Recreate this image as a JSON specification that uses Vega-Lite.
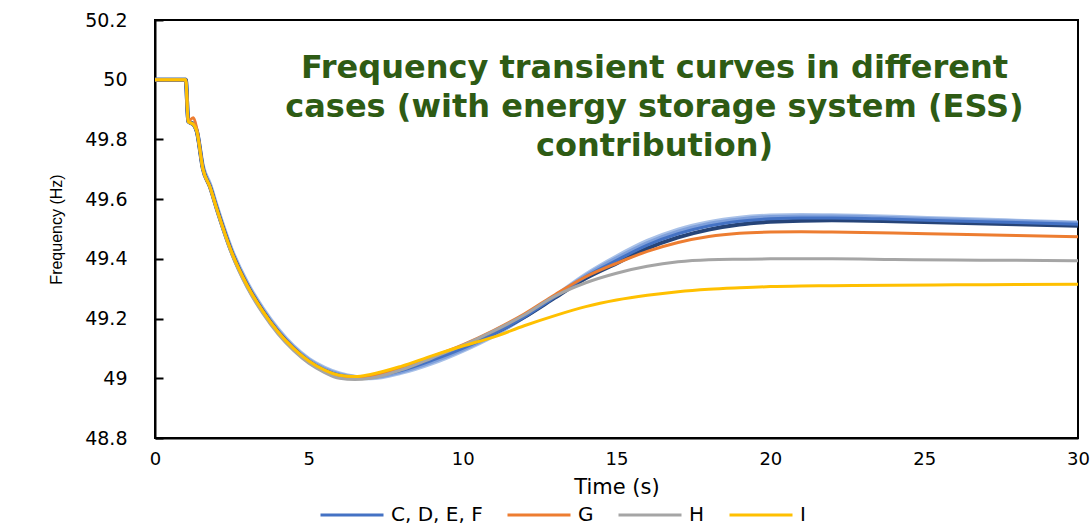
{
  "$schema": "https://vega.github.io/schema/vega-lite/v6.json",
  "width": 923,
  "height": 418,
  "autosize": {"type": "none"},
  "padding": {"left": 155, "top": 20, "right": 14, "bottom": 89},
  "background": "white",
  "view": {"stroke": "black", "strokeWidth": 2},
  "title": {
    "text": ["Frequency transient curves in different", "cases (with energy storage system (ESS)", "contribution)"],
    "font": "DejaVu Sans",
    "fontSize": 32,
    "fontWeight": "bold",
    "color": "#2E5B14",
    "lineHeight": 39,
    "anchor": "middle",
    "frame": "group",
    "baseline": "top",
    "dx": 38,
    "offset": -152
  },
  "data": {
    "values": [
      {"t":0,"c":"C","f":50},{"t":1,"c":"C","f":50},{"t":1.08,"c":"C","f":49.86},{"t":1.25,"c":"C","f":49.85},{"t":1.36,"c":"C","f":49.826},{"t":1.56,"c":"C","f":49.70},{"t":1.79,"c":"C","f":49.64},{"t":2,"c":"C","f":49.57},{"t":2.5,"c":"C","f":49.42},{"t":3,"c":"C","f":49.31},{"t":3.5,"c":"C","f":49.225},{"t":4,"c":"C","f":49.155},{"t":4.5,"c":"C","f":49.10},{"t":5,"c":"C","f":49.058},{"t":5.5,"c":"C","f":49.028},{"t":6,"c":"C","f":49.01},{"t":6.5,"c":"C","f":49.003},{"t":7,"c":"C","f":49.006},{"t":8,"c":"C","f":49.026},{"t":9,"c":"C","f":49.06},{"t":10,"c":"C","f":49.10},{"t":11,"c":"C","f":49.148},{"t":12,"c":"C","f":49.205},{"t":13,"c":"C","f":49.272},{"t":14,"c":"C","f":49.34},{"t":15,"c":"C","f":49.395},{"t":16,"c":"C","f":49.446},{"t":17,"c":"C","f":49.484},{"t":18,"c":"C","f":49.51},{"t":19,"c":"C","f":49.526},{"t":20,"c":"C","f":49.534},{"t":21,"c":"C","f":49.537},{"t":22,"c":"C","f":49.537},{"t":24,"c":"C","f":49.533},{"t":26,"c":"C","f":49.527},{"t":28,"c":"C","f":49.522},{"t":30,"c":"C","f":49.516},

      {"t":0,"c":"D","f":50},{"t":1,"c":"D","f":50},{"t":1.08,"c":"D","f":49.862},{"t":1.25,"c":"D","f":49.852},{"t":1.36,"c":"D","f":49.83},{"t":1.56,"c":"D","f":49.71},{"t":1.79,"c":"D","f":49.65},{"t":2,"c":"D","f":49.58},{"t":2.5,"c":"D","f":49.43},{"t":3,"c":"D","f":49.32},{"t":3.5,"c":"D","f":49.235},{"t":4,"c":"D","f":49.165},{"t":4.5,"c":"D","f":49.108},{"t":5,"c":"D","f":49.065},{"t":5.5,"c":"D","f":49.036},{"t":6,"c":"D","f":49.016},{"t":6.5,"c":"D","f":49.005},{"t":7,"c":"D","f":49.0},{"t":8,"c":"D","f":49.018},{"t":9,"c":"D","f":49.05},{"t":10,"c":"D","f":49.092},{"t":11,"c":"D","f":49.142},{"t":12,"c":"D","f":49.205},{"t":13,"c":"D","f":49.276},{"t":14,"c":"D","f":49.348},{"t":15,"c":"D","f":49.408},{"t":16,"c":"D","f":49.46},{"t":17,"c":"D","f":49.498},{"t":18,"c":"D","f":49.523},{"t":19,"c":"D","f":49.538},{"t":20,"c":"D","f":49.545},{"t":21,"c":"D","f":49.547},{"t":22,"c":"D","f":49.546},{"t":24,"c":"D","f":49.541},{"t":26,"c":"D","f":49.534},{"t":28,"c":"D","f":49.528},{"t":30,"c":"D","f":49.522},

      {"t":0,"c":"E","f":50},{"t":1,"c":"E","f":50},{"t":1.08,"c":"E","f":49.861},{"t":1.25,"c":"E","f":49.851},{"t":1.36,"c":"E","f":49.828},{"t":1.56,"c":"E","f":49.705},{"t":1.79,"c":"E","f":49.645},{"t":2,"c":"E","f":49.575},{"t":2.5,"c":"E","f":49.425},{"t":3,"c":"E","f":49.315},{"t":3.5,"c":"E","f":49.23},{"t":4,"c":"E","f":49.16},{"t":4.5,"c":"E","f":49.104},{"t":5,"c":"E","f":49.062},{"t":5.5,"c":"E","f":49.032},{"t":6,"c":"E","f":49.013},{"t":6.5,"c":"E","f":49.004},{"t":7,"c":"E","f":49.003},{"t":8,"c":"E","f":49.022},{"t":9,"c":"E","f":49.055},{"t":10,"c":"E","f":49.096},{"t":11,"c":"E","f":49.145},{"t":12,"c":"E","f":49.205},{"t":13,"c":"E","f":49.274},{"t":14,"c":"E","f":49.344},{"t":15,"c":"E","f":49.402},{"t":16,"c":"E","f":49.453},{"t":17,"c":"E","f":49.491},{"t":18,"c":"E","f":49.517},{"t":19,"c":"E","f":49.532},{"t":20,"c":"E","f":49.54},{"t":21,"c":"E","f":49.542},{"t":22,"c":"E","f":49.542},{"t":24,"c":"E","f":49.537},{"t":26,"c":"E","f":49.531},{"t":28,"c":"E","f":49.525},{"t":30,"c":"E","f":49.519},

      {"t":0,"c":"F","f":50},{"t":1,"c":"F","f":50},{"t":1.08,"c":"F","f":49.86},{"t":1.25,"c":"F","f":49.85},{"t":1.36,"c":"F","f":49.826},{"t":1.56,"c":"F","f":49.70},{"t":1.79,"c":"F","f":49.64},{"t":2,"c":"F","f":49.57},{"t":2.5,"c":"F","f":49.42},{"t":3,"c":"F","f":49.31},{"t":3.5,"c":"F","f":49.225},{"t":4,"c":"F","f":49.155},{"t":4.5,"c":"F","f":49.10},{"t":5,"c":"F","f":49.056},{"t":5.5,"c":"F","f":49.026},{"t":6,"c":"F","f":49.008},{"t":6.5,"c":"F","f":49.002},{"t":7,"c":"F","f":49.008},{"t":8,"c":"F","f":49.03},{"t":9,"c":"F","f":49.065},{"t":10,"c":"F","f":49.105},{"t":11,"c":"F","f":49.15},{"t":12,"c":"F","f":49.205},{"t":13,"c":"F","f":49.27},{"t":14,"c":"F","f":49.335},{"t":15,"c":"F","f":49.385},{"t":16,"c":"F","f":49.435},{"t":17,"c":"F","f":49.472},{"t":18,"c":"F","f":49.498},{"t":19,"c":"F","f":49.515},{"t":20,"c":"F","f":49.524},{"t":21,"c":"F","f":49.528},{"t":22,"c":"F","f":49.529},{"t":24,"c":"F","f":49.526},{"t":26,"c":"F","f":49.521},{"t":28,"c":"F","f":49.516},{"t":30,"c":"F","f":49.511},

      {"t":0,"c":"G","f":50},{"t":1,"c":"G","f":50},{"t":1.08,"c":"G","f":49.862},{"t":1.25,"c":"G","f":49.873},{"t":1.36,"c":"G","f":49.835},{"t":1.56,"c":"G","f":49.70},{"t":1.79,"c":"G","f":49.64},{"t":2,"c":"G","f":49.57},{"t":2.5,"c":"G","f":49.42},{"t":3,"c":"G","f":49.31},{"t":3.5,"c":"G","f":49.225},{"t":4,"c":"G","f":49.155},{"t":4.5,"c":"G","f":49.10},{"t":5,"c":"G","f":49.056},{"t":5.5,"c":"G","f":49.026},{"t":6,"c":"G","f":49.008},{"t":6.5,"c":"G","f":49.003},{"t":7,"c":"G","f":49.008},{"t":8,"c":"G","f":49.035},{"t":9,"c":"G","f":49.072},{"t":10,"c":"G","f":49.112},{"t":11,"c":"G","f":49.16},{"t":12,"c":"G","f":49.215},{"t":13,"c":"G","f":49.28},{"t":14,"c":"G","f":49.34},{"t":15,"c":"G","f":49.385},{"t":16,"c":"G","f":49.425},{"t":17,"c":"G","f":49.455},{"t":18,"c":"G","f":49.475},{"t":19,"c":"G","f":49.486},{"t":20,"c":"G","f":49.49},{"t":21,"c":"G","f":49.491},{"t":22,"c":"G","f":49.49},{"t":24,"c":"G","f":49.487},{"t":26,"c":"G","f":49.482},{"t":28,"c":"G","f":49.478},{"t":30,"c":"G","f":49.474},

      {"t":0,"c":"H","f":50},{"t":1,"c":"H","f":50},{"t":1.08,"c":"H","f":49.86},{"t":1.25,"c":"H","f":49.85},{"t":1.36,"c":"H","f":49.826},{"t":1.56,"c":"H","f":49.70},{"t":1.79,"c":"H","f":49.64},{"t":2,"c":"H","f":49.568},{"t":2.5,"c":"H","f":49.415},{"t":3,"c":"H","f":49.303},{"t":3.5,"c":"H","f":49.218},{"t":4,"c":"H","f":49.148},{"t":4.5,"c":"H","f":49.093},{"t":5,"c":"H","f":49.05},{"t":5.5,"c":"H","f":49.02},{"t":6,"c":"H","f":49.0},{"t":6.5,"c":"H","f":48.996},{"t":7,"c":"H","f":49.0},{"t":8,"c":"H","f":49.028},{"t":9,"c":"H","f":49.068},{"t":10,"c":"H","f":49.11},{"t":11,"c":"H","f":49.158},{"t":12,"c":"H","f":49.212},{"t":13,"c":"H","f":49.275},{"t":14,"c":"H","f":49.32},{"t":15,"c":"H","f":49.352},{"t":16,"c":"H","f":49.375},{"t":17,"c":"H","f":49.39},{"t":18,"c":"H","f":49.397},{"t":19,"c":"H","f":49.399},{"t":20,"c":"H","f":49.4},{"t":21,"c":"H","f":49.4},{"t":22,"c":"H","f":49.4},{"t":24,"c":"H","f":49.398},{"t":26,"c":"H","f":49.396},{"t":28,"c":"H","f":49.395},{"t":30,"c":"H","f":49.394},

      {"t":0,"c":"I","f":50},{"t":1,"c":"I","f":50},{"t":1.08,"c":"I","f":49.86},{"t":1.25,"c":"I","f":49.85},{"t":1.36,"c":"I","f":49.826},{"t":1.56,"c":"I","f":49.70},{"t":1.79,"c":"I","f":49.64},{"t":2,"c":"I","f":49.57},{"t":2.5,"c":"I","f":49.42},{"t":3,"c":"I","f":49.31},{"t":3.5,"c":"I","f":49.225},{"t":4,"c":"I","f":49.155},{"t":4.5,"c":"I","f":49.10},{"t":5,"c":"I","f":49.058},{"t":5.5,"c":"I","f":49.028},{"t":6,"c":"I","f":49.01},{"t":6.5,"c":"I","f":49.006},{"t":7,"c":"I","f":49.013},{"t":8,"c":"I","f":49.04},{"t":9,"c":"I","f":49.075},{"t":10,"c":"I","f":49.108},{"t":11,"c":"I","f":49.138},{"t":12,"c":"I","f":49.176},{"t":13,"c":"I","f":49.21},{"t":14,"c":"I","f":49.24},{"t":15,"c":"I","f":49.262},{"t":16,"c":"I","f":49.278},{"t":17,"c":"I","f":49.29},{"t":18,"c":"I","f":49.298},{"t":19,"c":"I","f":49.303},{"t":20,"c":"I","f":49.307},{"t":21,"c":"I","f":49.309},{"t":22,"c":"I","f":49.31},{"t":24,"c":"I","f":49.312},{"t":26,"c":"I","f":49.313},{"t":28,"c":"I","f":49.314},{"t":30,"c":"I","f":49.315}
    ]
  },
  "encoding": {
    "x": {
      "field": "t", "type": "quantitative",
      "scale": {"domain": [0, 30], "nice": false, "zero": false},
      "axis": {
        "title": "Time (s)",
        "values": [0, 5, 10, 15, 20, 25, 30],
        "grid": false, "ticks": false, "labelFlush": false,
        "labelFont": "DejaVu Sans", "labelFontSize": 18, "labelColor": "black", "labelPadding": 12,
        "domainColor": "black", "domainWidth": 2,
        "titleFont": "DejaVu Sans", "titleFontSize": 21, "titleFontWeight": "normal", "titleColor": "black", "titlePadding": 8
      }
    },
    "y": {
      "field": "f", "type": "quantitative",
      "scale": {"domain": [48.8, 50.2], "nice": false, "zero": false},
      "axis": {
        "title": "Frequency (Hz)",
        "values": [48.8, 49, 49.2, 49.4, 49.6, 49.8, 50, 50.2],
        "format": ".3~r",
        "grid": false, "ticks": true, "tickSize": -8, "tickColor": "black", "tickWidth": 2,
        "labelFont": "DejaVu Sans", "labelFontSize": 19, "labelColor": "black", "labelPadding": 36,
        "domainColor": "black", "domainWidth": 2,
        "titleFont": "Liberation Sans", "titleFontSize": 16, "titleFontWeight": "normal", "titleColor": "black", "titlePadding": 20
      }
    }
  },
  "layer": [
    {
      "transform": [{"filter": "datum.c == 'D' || datum.c == 'E' || datum.c == 'F'"}],
      "mark": {"type": "line", "interpolate": "monotone", "strokeWidth": 4},
      "encoding": {
        "color": {"field": "c", "type": "nominal", "legend": null,
          "scale": {"domain": ["D", "E", "F"], "range": ["#A9C1E8", "#7FA0DB", "#264478"]}}
      }
    },
    {
      "transform": [{"filter": "datum.c == 'C' || datum.c == 'G' || datum.c == 'H' || datum.c == 'I'"}],
      "mark": {"type": "line", "interpolate": "monotone", "strokeWidth": 3},
      "encoding": {
        "color": {"field": "c", "type": "nominal",
          "scale": {"domain": ["C", "G", "H", "I"], "range": ["#4472C4", "#ED7D31", "#A5A5A5", "#FFC000"]},
          "legend": {
            "title": null, "orient": "none", "direction": "horizontal",
            "legendX": 164, "legendY": 462,
            "symbolType": "stroke", "symbolSize": 3969, "symbolStrokeWidth": 3,
            "labelExpr": "datum.label == 'C' ? 'C, D, E, F' : datum.label",
            "labelFont": "DejaVu Sans", "labelFontSize": 20, "labelColor": "black",
            "labelOffset": 6, "columnPadding": 18
          }
        }
      }
    }
  ],
  "resolve": {"scale": {"color": "independent"}}
}
